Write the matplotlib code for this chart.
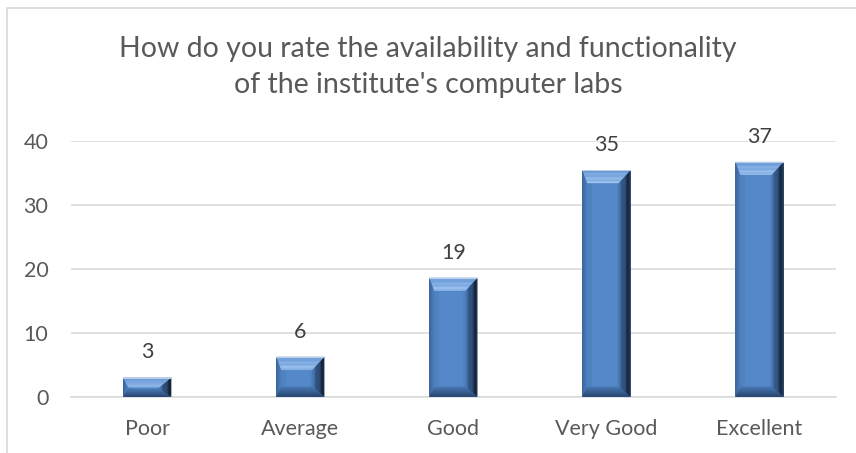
import matplotlib
matplotlib.use("Agg")
import matplotlib.pyplot as plt
from matplotlib.patches import Polygon, Rectangle
from matplotlib.transforms import IdentityTransform
from matplotlib.colors import to_rgb

categories = ["Poor", "Average", "Good", "Very Good", "Excellent"]
values = [3.0, 6.25, 18.6, 35.4, 36.7]
title = "How do you rate the availability and functionality\nof the institute's computer labs"

plt.rcParams['font.family'] = ['Lato', 'DejaVu Sans']

W, H, DPI = 856, 453, 100
fig = plt.figure(figsize=(W / DPI, H / DPI), dpi=DPI)
ax = fig.add_axes([70.7 / W, 1 - 396.7 / H, (836 - 70.7) / W, (396.7 - 140.7) / H])

# outer chart border (only left/top visible in crop)
fig.patches.append(Rectangle((6.5 / W, -0.1), 1.2, 1.1 - 8.5 / H, transform=fig.transFigure,
                             fill=False, edgecolor="#d9d9d9", linewidth=1.2))

x = list(range(len(categories)))
bars = ax.bar(x, values, width=0.315, color="#4f82c1", edgecolor="none", zorder=3)

ax.set_xlim(-0.5, len(categories) - 0.5)
ax.set_ylim(0, 40)
ax.set_yticks([0, 10, 20, 30, 40])
ax.set_xticks(x)
ax.set_xticklabels(categories)
ax.tick_params(axis="both", length=0, labelsize=15.5, labelcolor="#595959")
ax.tick_params(axis="x", pad=16)
ax.tick_params(axis="y", pad=16)
ax.grid(axis="y", color="#d9d9d9", linewidth=1.1, zorder=0)
ax.set_axisbelow(True)
for s in ["top", "right", "left"]:
    ax.spines[s].set_visible(False)
ax.spines["bottom"].set_color("#d9d9d9")
ax.spines["bottom"].set_linewidth(1.1)

# data labels
for b, v in zip(bars, values):
    ax.annotate(f"{v:.0f}", (b.get_x() + b.get_width() / 2, v), xytext=(0, 18),
                textcoords="offset points", ha="center", va="center",
                fontsize=15.5, color="#404040")

fig.text(0.5, 1 - 67 / H, title, ha="center", va="center", fontsize=20.5,
         color="#595959", linespacing=1.5)


def mix(c1, c2, f):
    a, b = to_rgb(c1), to_rgb(c2)
    return tuple(a[i] + (b[i] - a[i]) * f for i in range(3))


def add(pts, col, z=4):
    fig.patches.append(Polygon(pts, closed=True, facecolor=col, edgecolor="none",
                               transform=IdentityTransform(), zorder=z))


# bevel effect drawn in pixel space from each bar's extents
fig.canvas.draw()
tr = ax.transData
n = 10
grads = {
    "top": ("#6e9edb", "#a3c8f3", 1.0),
    "bottom": ("#1a2e4e", "#4573ae", 0.8),
    "left": ("#2c4d7a", "#4c7ebd", 0.6),
    "right": ("#0f1b2c", "#4a7bb8", 1.4),
}
for b in bars:
    (x0, y0) = tr.transform((b.get_x(), 0))
    (x1, y1) = tr.transform((b.get_x() + b.get_width(), b.get_height()))
    T, B, L, R = 13.0, 10.0, 5.0, 12.0
    h = y1 - y0
    if T + B > 0.9 * h:
        k = 0.9 * h / (T + B)
        T, B = T * k, B * k

    def pt(side, f):
        # corner points at fraction f of bevel depth
        if side == "top":
            return [(x0 + f * L, y1 - f * T), (x1 - f * R, y1 - f * T)]
        if side == "bottom":
            return [(x0 + f * L, y0 + f * B), (x1 - f * R, y0 + f * B)]
        if side == "left":
            return [(x0 + f * L, y0 + f * B), (x0 + f * L, y1 - f * T)]
        return [(x1 - f * R, y0 + f * B), (x1 - f * R, y1 - f * T)]

    # lighter centre of the face
    add([(x0 + L + 5, y0 + B), (x1 - R - 2, y0 + B), (x1 - R - 2, y1 - T), (x0 + L + 5, y1 - T)],
        "#5488c8", 3.5)
    for side in ["left", "right", "bottom", "top"]:
        c_out, c_in, p = grads[side]
        for i in range(n):
            f0, f1 = i / n, (i + 1) / n
            a0, a1 = pt(side, f0)
            b0, b1 = pt(side, f1)
            add([a0, a1, b1, b0], mix(c_out, c_in, ((i + 0.5) / n) ** p))
    # thin light rim along top
    add([(x0, y1), (x1, y1), (x1, y1 - 1), (x0, y1 - 1)], "#b9cde6", 5)

fig.savefig("out.png", dpi=DPI)
